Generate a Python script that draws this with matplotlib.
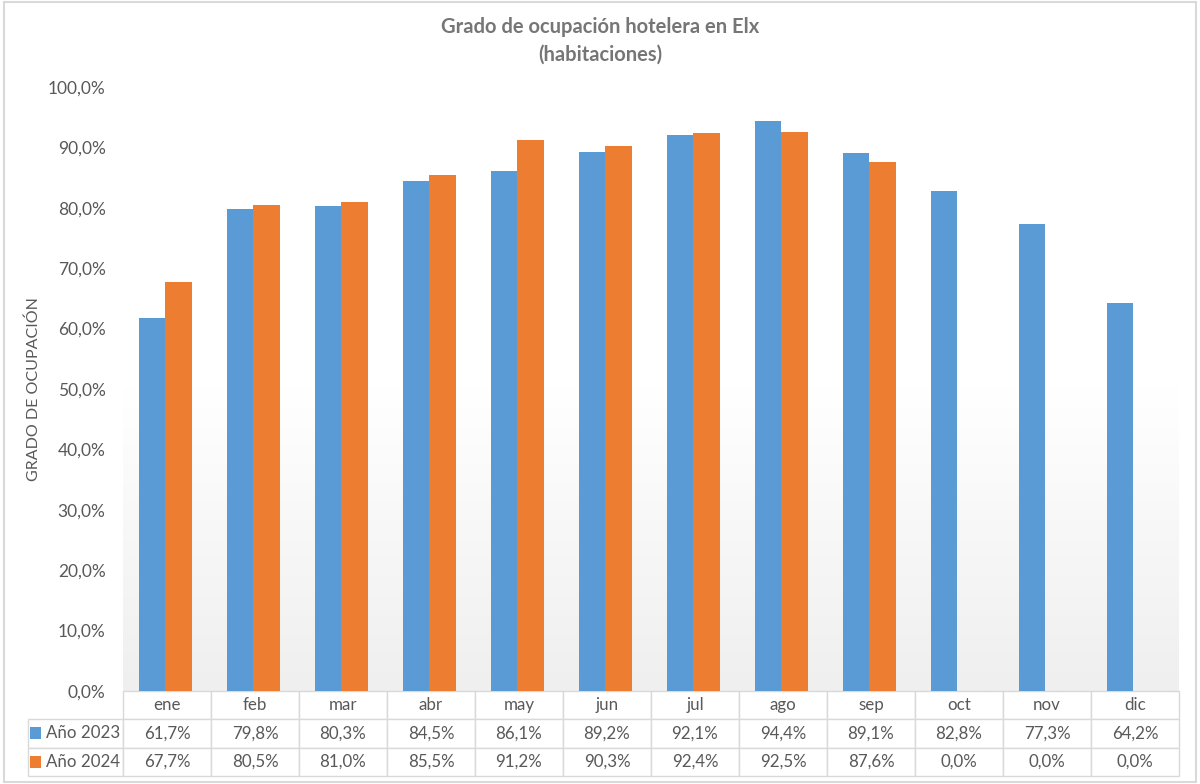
import numpy as np
import matplotlib
matplotlib.use("Agg")
import matplotlib.pyplot as plt
from matplotlib.table import Table
from matplotlib.patches import Rectangle
from matplotlib.colors import LinearSegmentedColormap
from matplotlib.ticker import FuncFormatter

# datos (grado de ocupacion, %)
meses = ["ene", "feb", "mar", "abr", "may", "jun", "jul", "ago", "sep", "oct", "nov", "dic"]
serie_2023 = [61.7, 79.8, 80.3, 84.5, 86.1, 89.2, 92.1, 94.4, 89.1, 82.8, 77.3, 64.2]
serie_2024 = [67.7, 80.5, 81.0, 85.5, 91.2, 90.3, 92.4, 92.5, 87.6, 0.0, 0.0, 0.0]
nombres = ["Año 2023", "Año 2024"]
colores = ["#5B9BD5", "#ED7D31"]

plt.rcParams['font.family'] = ['Lato', 'DejaVu Sans']
gris = "#595959"

fig = plt.figure(figsize=(12, 7.84), dpi=100)
fig.patch.set_facecolor("white")
# borde del grafico
fig.patches.append(Rectangle((0.003, 0.003), 0.994, 0.994, transform=fig.transFigure,
                             fill=False, edgecolor="#d9d9d9", linewidth=1.5))

ax = fig.add_axes([123 / 1200, 93 / 784, 1056 / 1200, 604 / 784])

# fondo degradado del area de trazado
cmap = LinearSegmentedColormap.from_list("fondo", ["#ffffff", "#ffffff", "#efefef"])
ax.imshow(np.linspace(0, 1, 256).reshape(-1, 1), cmap=cmap, aspect="auto",
          extent=[0, 1, 0, 1], transform=ax.transAxes, zorder=0, origin="upper")

x = np.arange(len(meses))
ancho = 0.30
ax.bar(x - ancho / 2 - 0.02, serie_2023, ancho, color=colores[0], zorder=2)
ax.bar(x + ancho / 2 - 0.02, serie_2024, ancho, color=colores[1], zorder=2)

ax.set_xlim(-0.5, len(meses) - 0.5)
ax.set_ylim(0, 100)
ax.set_yticks(np.arange(0, 101, 10))
ax.yaxis.set_major_formatter(FuncFormatter(lambda v, p: f"{v:.1f}%".replace(".", ",")))
ax.tick_params(axis="y", length=0, pad=12.5, labelsize=12.5, labelcolor=gris)
ax.set_xticks([])
for s in ax.spines.values():
    s.set_visible(False)

ax.set_ylabel("GRADO DE OCUPACIÓN", fontsize=11.5, color=gris)
ax.yaxis.set_label_coords(-82 / 1056, 0.5)

fig.text(0.5, 1 - 27 / 784, "Grado de ocupación hotelera en Elx", ha="center", va="center",
         fontsize=14.5, fontweight="bold", color="#767676")
fig.text(0.5, 1 - 55 / 784, "(habitaciones)", ha="center", va="center",
         fontsize=14.5, fontweight="bold", color="#767676")

# tabla de datos bajo el eje
h_cab = 28 / 604
h_fila = 28.5 / 604
w_col = 1 / len(meses)
w_etq = 95 / 1056
total_h = h_cab + 2 * h_fila
tabla = Table(ax, bbox=[0, -total_h, 1, total_h])
filas = [[f"{v:.1f}%".replace(".", ",") for v in serie_2023],
         [f"{v:.1f}%".replace(".", ",") for v in serie_2024]]
for j, m in enumerate(meses):
    tabla.add_cell(0, j, w_col, h_cab, text=m, loc="center")
for i, fila in enumerate(filas):
    tabla.add_cell(i + 1, -1, w_etq, h_fila, text=nombres[i], loc="right")
    for j, t in enumerate(fila):
        tabla.add_cell(i + 1, j, w_col, h_fila, text=t, loc="center")
tabla.auto_set_font_size(False)
tabla.set_fontsize(12.2)
for (r, c), celda in tabla.get_celld().items():
    celda.set_edgecolor("#d9d9d9")
    celda.set_linewidth(1)
    celda.set_facecolor("white")
    celda.get_text().set_color(gris)
    if c == -1:
        celda.PAD = 0.03
tabla.set_clip_on(False)
ax.add_table(tabla)

# claves de leyenda en la tabla
for i, col in enumerate(colores):
    yc = -h_cab - h_fila * (i + 0.5)
    ax.add_patch(Rectangle((-93 / 1056, yc - 6 / 604), 11 / 1056, 12 / 604,
                           transform=ax.transAxes, facecolor=col, edgecolor="none",
                           clip_on=False, zorder=5))

fig.savefig("out.png", dpi=100)
